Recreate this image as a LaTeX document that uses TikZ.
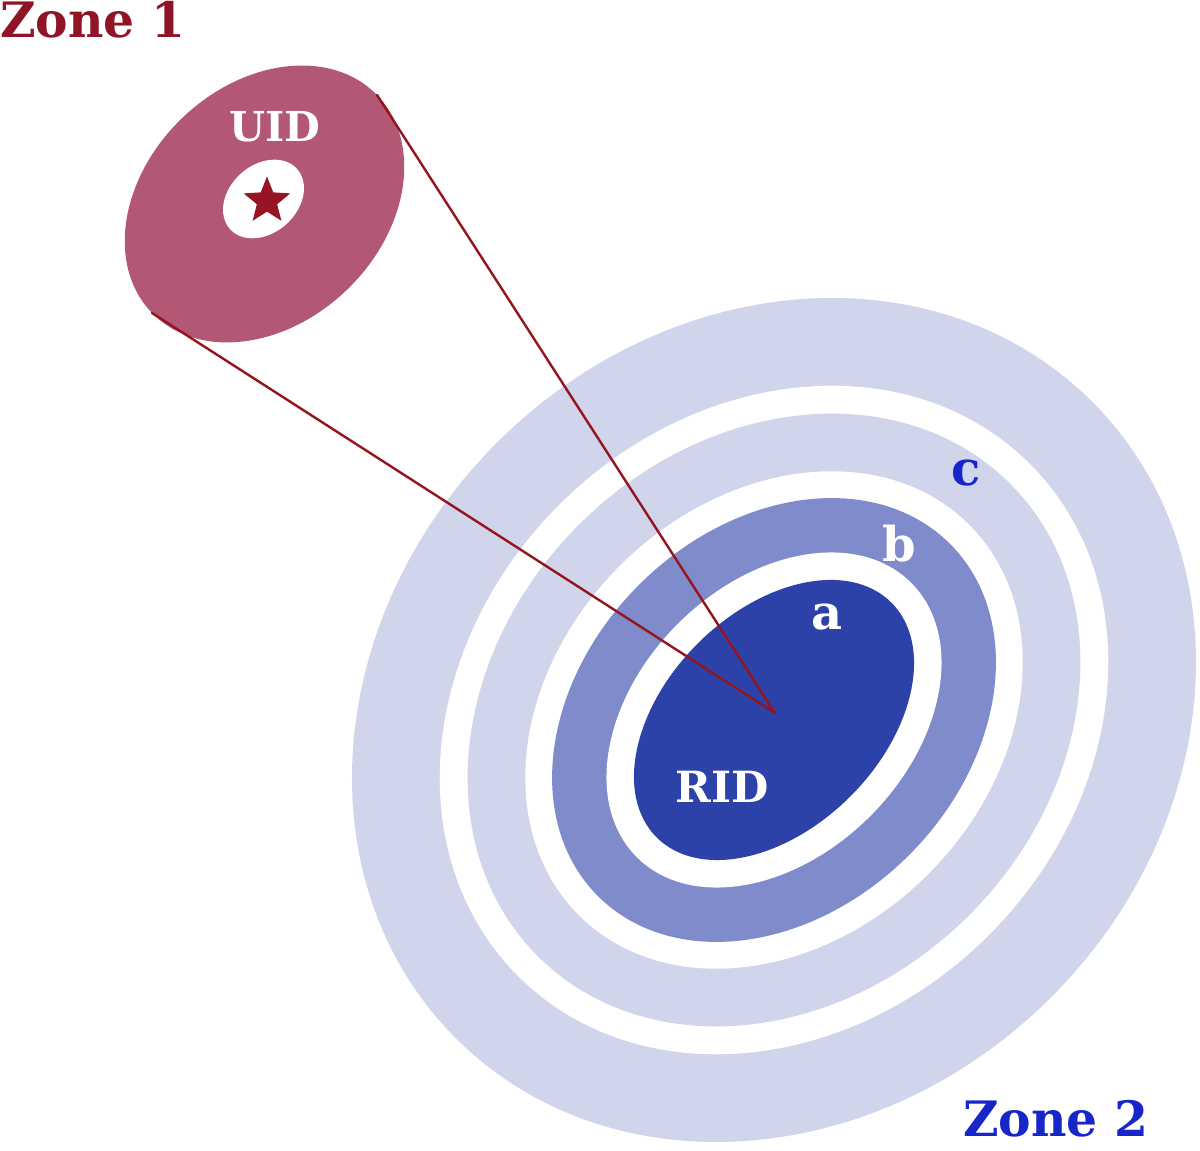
\documentclass[tikz,border=0pt]{standalone}
\usepackage{fontspec}
\setmainfont{DejaVu Serif}
\usetikzlibrary{shapes.geometric}
\definecolor{zonered}{RGB}{142,20,38}
\definecolor{uidfill}{RGB}{178,87,116}
\definecolor{starred}{RGB}{150,20,35}
\definecolor{linered}{RGB}{150,20,30}
\definecolor{darkblue}{RGB}{45,66,168}
\definecolor{midblue}{RGB}{127,139,202}
\definecolor{lightblue}{RGB}{208,213,235}
\definecolor{zoneblue}{RGB}{22,38,200}
\begin{document}
\begin{tikzpicture}[x=0.5pt,y=0.5pt,
  lbl/.style={inner sep=0pt, outer sep=0pt},
  bigtxt/.style={lbl, font=\fontsize{24.4pt}{24.4pt}\selectfont\bfseries},
  idtxt/.style={lbl, text=white, font=\fontsize{20.6pt}{20.6pt}\selectfont\bfseries},
  lettxt/.style={lbl, font=\fontsize{24pt}{24pt}\selectfont\bfseries},
  redline/.style={draw=linered, line width=1.2pt, line join=round, line cap=round}]
\useasboundingbox (0,0) rectangle (1200,1151);
% Zone 2 concentric bands
\begin{scope}[rotate around={45:(774,431)}]
  \fill[lightblue] (774,431) ellipse [x radius=225pt, y radius=196pt];
  \fill[white]     (774,431) ellipse [x radius=181pt, y radius=152pt];
  \fill[lightblue] (774,431) ellipse [x radius=167pt, y radius=138pt];
  \fill[white]     (774,431) ellipse [x radius=138pt, y radius=109pt];
  \fill[midblue]   (774,431) ellipse [x radius=124.5pt, y radius=95.5pt];
  \fill[white]     (774,431) ellipse [x radius=97pt, y radius=68pt];
  \fill[darkblue]  (774,431) ellipse [x radius=83pt, y radius=54pt];
\end{scope}
% UID zone
\fill[uidfill, rotate around={44:(264.5,947)}] (264.5,947) ellipse [x radius=78.3pt, y radius=59.5pt];
\fill[white, rotate around={42:(263.5,952)}] (263.5,952) ellipse [x radius=22.5pt, y radius=17pt];
\node[star, star points=5, star point ratio=2.3, fill=starred, inner sep=0pt, minimum size=24.5pt] (star) at (267,950) {};
% connectors
\coordinate (rid) at (775,438);
\coordinate (t1) at (377,1056);
\coordinate (t2) at (152,838);
\draw[redline] (t1) -- (rid) -- (t2);
% labels
\node[bigtxt, text=zonered, anchor=base west] (zone1) at (0,1113) {Zone 1};
\node[bigtxt, text=zoneblue, anchor=base west] (zone2) at (963,14) {Zone 2};
\node[idtxt] (uid) at (275,1024) {UID};
\node[idtxt, font=\fontsize{21.5pt}{21.5pt}\selectfont\bfseries] (ridl) at (722,364) {RID};
\node[lettxt, text=white] (la) at (827,534) {a};
\node[lettxt, text=white] (lb) at (899,607) {b};
\node[lettxt, text=zoneblue] (lc) at (966,678) {c};
\end{tikzpicture}
\end{document}
